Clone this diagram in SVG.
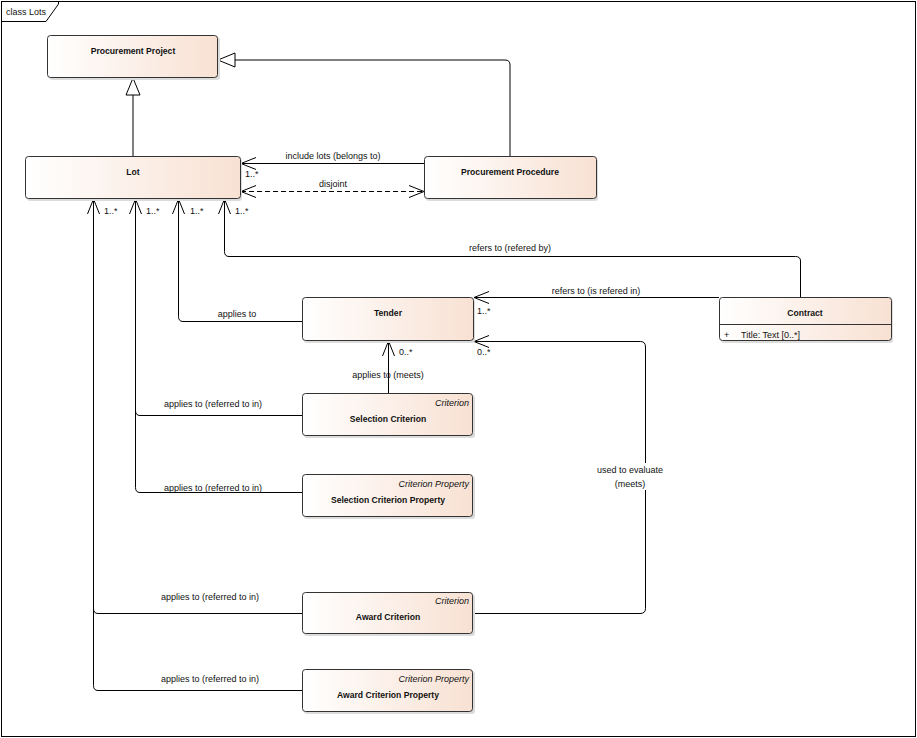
<svg xmlns="http://www.w3.org/2000/svg" width="917" height="738" viewBox="0 0 917 738">
<style>
.frame{fill:#fff;stroke:#000;stroke-width:1}
.box{fill:url(#g);stroke:#333;stroke-width:1}
.sh{fill:#dcdcdc}
.t{font-family:"Liberation Sans",Arial,sans-serif;font-size:9px;fill:#111}
.b{font-weight:bold;text-anchor:middle;font-size:8.6px}
.i{font-style:italic;text-anchor:end}
.m{text-anchor:middle}
.c path,.c line{fill:none;stroke:#000;stroke-width:1}
.c .d{stroke-dasharray:5,3}
</style>
<defs>
<linearGradient id="g" x1="0" y1="0" x2="1" y2="0">
<stop offset="0" stop-color="#ffffff"/>
<stop offset="1" stop-color="#f8e1d3"/>
</linearGradient>
<marker id="oa" markerUnits="userSpaceOnUse" markerWidth="20" markerHeight="16" viewBox="-16 -8 18 16" refX="0" refY="0" orient="auto-start-reverse">
<path d="M-15,-6 L0,0 L-15,6" fill="none" stroke="#000" stroke-width="1"/>
</marker>
<marker id="tri" markerUnits="userSpaceOnUse" markerWidth="22" markerHeight="18" viewBox="-19 -9 20 18" refX="0" refY="0" orient="auto">
<path d="M-17,-7 L0,0 L-17,7 Z" fill="#fff" stroke="#000" stroke-width="1"/>
</marker>
</defs>
<rect class="frame" x="1.5" y="1.5" width="914" height="735"/>
<path d="M1.5,21.5 H46 L58.5,4 V1.5" fill="none" stroke="#000"/>
<text class="t" x="6" y="15">class Lots</text>

<g class="c" id="connectors">
<path d="M133,156 V78" marker-end="url(#tri)"/>
<path d="M510,156 V65 Q510,60 505,60 H218" marker-end="url(#tri)"/>
<path d="M424,163.5 H241" marker-end="url(#oa)"/>
<path class="d" d="M241,191.5 H424" marker-start="url(#oa)" marker-end="url(#oa)"/>
<path d="M800.5,297 V261 Q800.5,256.5 795.5,256.5 H229 Q224.5,256.5 224.5,251.5 V199" marker-end="url(#oa)"/>
<path d="M302,321.5 H183 Q178.5,321.5 178.5,316.5 V199" marker-end="url(#oa)"/>
<path d="M302,415.5 H140 Q135.5,415.5 135.5,410.5 V199" marker-end="url(#oa)"/>
<path d="M302,492.5 H140 Q135.5,492.5 135.5,487.5 V410"/>
<path d="M302,613.5 H98 Q93.5,613.5 93.5,608.5 V199" marker-end="url(#oa)"/>
<path d="M302,690.5 H98 Q93.5,690.5 93.5,685.5 V605"/>
<path d="M719,297.5 H474" marker-end="url(#oa)"/>
<path d="M388.5,393 V341" marker-end="url(#oa)"/>
<path d="M473,613.5 H640 Q645.5,613.5 645.5,608.5 V347 Q645.5,341.5 640.5,341.5 H474" marker-end="url(#oa)"/>
<rect x="596" y="463" width="68" height="27" fill="#fff" stroke="none"/>
</g>

<g id="labels">
<text class="t m" x="333" y="159">include lots (belongs to)</text>
<text class="t" x="245" y="177">1..*</text>
<text class="t m" x="333" y="187">disjoint</text>
<text class="t" x="104" y="214">1..*</text>
<text class="t" x="146" y="214">1..*</text>
<text class="t" x="190" y="214">1..*</text>
<text class="t" x="235" y="214">1..*</text>
<text class="t m" x="510" y="251">refers to (refered by)</text>
<text class="t m" x="596" y="294">refers to (is refered in)</text>
<text class="t" x="477" y="314">1..*</text>
<text class="t m" x="237" y="317">applies to</text>
<text class="t" x="399" y="355">0..*</text>
<text class="t" x="477" y="355">0..*</text>
<text class="t m" x="388" y="378">applies to (meets)</text>
<text class="t m" x="213" y="407">applies to (referred to in)</text>
<text class="t m" x="213" y="491">applies to (referred to in)</text>
<text class="t m" x="210" y="600">applies to (referred to in)</text>
<text class="t m" x="210" y="682">applies to (referred to in)</text>
<text class="t m" x="630" y="473">used to evaluate</text>
<text class="t m" x="630" y="487">(meets)</text>
</g>

<g id="procurement-project">
<rect class="sh" x="49" y="37" width="171" height="43" rx="3"/>
<rect class="box" x="47.5" y="35.5" width="170" height="42" rx="3"/>
<text class="t b" x="133" y="54">Procurement Project</text>
</g>
<g id="lot">
<rect class="sh" x="27" y="158" width="215" height="43" rx="3"/>
<rect class="box" x="25.5" y="156.5" width="215" height="42" rx="3"/>
<text class="t b" x="133" y="175">Lot</text>
</g>
<g id="procurement-procedure">
<rect class="sh" x="426" y="158" width="172" height="43" rx="3"/>
<rect class="box" x="424.5" y="156.5" width="172" height="42" rx="3"/>
<text class="t b" x="510" y="175">Procurement Procedure</text>
</g>
<g id="tender">
<rect class="sh" x="304" y="299" width="171" height="44" rx="3"/>
<rect class="box" x="302.5" y="297.5" width="171" height="43" rx="3"/>
<text class="t b" x="388" y="316">Tender</text>
</g>
<g id="contract">
<rect class="sh" x="721" y="299" width="172" height="44" rx="3"/>
<rect class="box" x="719.5" y="297.5" width="172" height="43" rx="3"/>
<line x1="719.5" y1="324.5" x2="891.5" y2="324.5" stroke="#333"/>
<text class="t b" x="805" y="316">Contract</text>
<text class="t" x="724" y="338">+</text>
<text class="t" x="741" y="338">Title: Text [0..*]</text>
</g>
<g id="selection-criterion">
<rect class="sh" x="304" y="395" width="171" height="43" rx="3"/>
<rect class="box" x="302.5" y="393.5" width="170" height="42" rx="3"/>
<text class="t i" x="469" y="406">Criterion</text>
<text class="t b" x="388" y="422">Selection Criterion</text>
</g>
<g id="selection-criterion-property">
<rect class="sh" x="304" y="476" width="171" height="43" rx="3"/>
<rect class="box" x="302.5" y="474.5" width="170" height="42" rx="3"/>
<text class="t i" x="469" y="487">Criterion Property</text>
<text class="t b" x="388" y="503">Selection Criterion Property</text>
</g>
<g id="award-criterion">
<rect class="sh" x="304" y="594" width="171" height="42" rx="3"/>
<rect class="box" x="302.5" y="592.5" width="170" height="41" rx="3"/>
<text class="t i" x="469" y="604">Criterion</text>
<text class="t b" x="388" y="620">Award Criterion</text>
</g>
<g id="award-criterion-property">
<rect class="sh" x="304" y="671" width="171" height="43" rx="3"/>
<rect class="box" x="302.5" y="669.5" width="170" height="42" rx="3"/>
<text class="t i" x="469" y="682">Criterion Property</text>
<text class="t b" x="388" y="698">Award Criterion Property</text>
</g>
</svg>
